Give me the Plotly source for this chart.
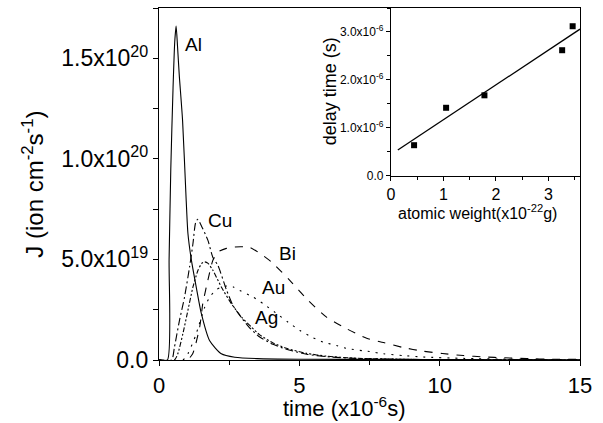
import numpy as np
import plotly.graph_objects as go

# ---- main chart data: time (us) and J (units of 1e19 ion cm^-2 s^-1) ----
al_t = [0, 0.30, 0.36, 0.42, 0.50, 0.56, 0.61, 0.66, 0.72, 0.84, 0.97, 1.03, 1.15, 1.33, 1.51, 1.80, 2.22, 2.70, 3.50, 5.0, 8.0, 11.0, 15.0]
al_j = [0, 0, 5.0, 9.5, 13.5, 15.8, 16.6, 15.6, 14.2, 11.9, 7.9, 6.3, 5.0, 3.6, 2.3, 0.97, 0.31, 0.14, 0.07, 0.04, 0.03, 0.02, 0.01]

cu_t = [0, 0.45, 0.55, 0.73, 0.91, 1.09, 1.21, 1.30, 1.38, 1.50, 1.74, 1.92, 2.10, 2.40, 2.64, 2.94, 3.23, 3.59, 4.06, 4.54, 5.26, 6.0, 7.0, 9.0, 12.0, 15.0]
cu_j = [0, 0, 0.64, 1.97, 3.13, 4.63, 5.79, 6.8, 7.0, 6.7, 5.96, 5.1, 4.7, 3.5, 2.7, 2.1, 1.6, 1.14, 0.78, 0.53, 0.29, 0.16, 0.08, 0.03, 0.01, 0]

ag_t = [0, 0.55, 0.67, 0.85, 1.03, 1.21, 1.39, 1.52, 1.63, 1.75, 1.92, 2.22, 2.58, 2.94, 3.29, 3.59, 4.06, 4.54, 5.26, 5.97, 7.0, 9.0, 12.0, 15.0]
ag_j = [0, 0, 0.31, 1.3, 2.47, 3.63, 4.46, 4.8, 4.88, 4.8, 4.46, 3.63, 2.80, 2.13, 1.64, 1.25, 0.85, 0.58, 0.33, 0.19, 0.09, 0.03, 0.01, 0]

au_t = [0, 0.85, 1.03, 1.3, 1.63, 1.80, 2.0, 2.2, 2.45, 2.65, 2.875, 3.35, 3.71, 4.15, 4.6, 5.02, 5.44, 5.85, 6.33, 6.74, 7.5, 8.0, 8.7, 9.4, 10.85, 12.5, 15.0]
au_j = [0, 0, 0.31, 1.2, 2.63, 3.1, 3.45, 3.62, 3.68, 3.63, 3.46, 3.13, 2.80, 2.35, 1.88, 1.47, 1.14, 0.89, 0.72, 0.56, 0.42, 0.31, 0.22, 0.15, 0.08, 0.04, 0.02]

bi_t = [0, 1.0, 1.2, 1.45, 1.56, 1.74, 1.92, 2.1, 2.4, 2.7, 3.0, 3.23, 3.6, 4.0, 4.66, 5.31, 5.97, 6.69, 7.4, 8.0, 8.7, 9.4, 10.1, 10.85, 11.6, 12.3, 13.1, 14.0, 15.0]
bi_j = [0, 0, 0.31, 1.64, 2.8, 3.96, 4.96, 5.37, 5.55, 5.62, 5.63, 5.6, 5.3, 4.88, 3.96, 2.97, 2.13, 1.55, 1.08, 0.87, 0.62, 0.44, 0.32, 0.22, 0.15, 0.11, 0.07, 0.04, 0.03]

J_UNIT = 1e19

# curve labels: (text, t, J in 1e19)
label_names = ["Al", "Cu", "Bi", "Au", "Ag"]
label_t = [0.84, 1.69, 4.19, 3.59, 3.35]
label_j = [15.7, 6.93, 5.28, 3.59, 2.12]

# main axis ticks
main_x_ticks = [0, 5, 10, 15]
main_y_tickvals = [0, 5e19, 1e20, 1.5e20]
main_y_ticktext = ["0.0", "5.0x10<sup>19</sup>", "1.0x10<sup>20</sup>", "1.5x10<sup>20</sup>"]

# ---- inset data: atomic weight (1e-22 g) vs delay time (s) ----
atomic_weight = [0.44, 1.05, 1.78, 3.26, 3.46]
delay_us = [0.64, 1.42, 1.68, 2.62, 3.12]
fit_x_range = [0.13, 3.6]
inset_y_tickvals = [0, 1e-6, 2e-6, 3e-6]
inset_y_ticktext = ["0.0", "1.0x10<sup>-6</sup>", "2.0x10<sup>-6</sup>", "3.0x10<sup>-6</sup>"]

FONT = "Liberation Sans, Arial, Helvetica, sans-serif"

fig = go.Figure()

styles = [
    (al_t, al_j, "solid"),
    (cu_t, cu_j, "8px,3px,2px,3px"),
    (ag_t, ag_j, "5px,2px,2px,2px,2px,2px"),
    (au_t, au_j, "2px,6px"),
    (bi_t, bi_j, "8px,8px"),
]
for t, j, dash in styles:
    fig.add_trace(go.Scatter(
        x=t, y=[v * J_UNIT for v in j], mode="lines",
        line=dict(color="black", width=1.1, dash=dash, shape="spline", smoothing=0.6),
        xaxis="x", yaxis="y", showlegend=False, hoverinfo="skip"))

# inset
fig.add_trace(go.Scatter(
    x=atomic_weight, y=[d * 1e-6 for d in delay_us], mode="markers",
    marker=dict(symbol="square", size=6, color="black"),
    xaxis="x2", yaxis="y2", showlegend=False))
slope, intercept = np.polyfit(atomic_weight, delay_us, 1)
fit_y = [(slope * x + intercept) * 1e-6 for x in fit_x_range]
fig.add_trace(go.Scatter(
    x=fit_x_range, y=fit_y, mode="lines",
    line=dict(color="black", width=1.3),
    xaxis="x2", yaxis="y2", showlegend=False))

annotations = []
for name, t, j in zip(label_names, label_t, label_j):
    annotations.append(dict(x=t, y=j * J_UNIT, xref="x", yref="y", text=name,
                            showarrow=False, xanchor="left", yanchor="middle",
                            font=dict(family=FONT, size=19, color="black")))

# axis titles
annotations.append(dict(x=-0.30, y=0.50, xref="paper", yref="paper", textangle=-90,
                        text="J (ion cm<sup>-2</sup>s<sup>-1</sup>)", showarrow=False,
                        xanchor="center", yanchor="middle",
                        font=dict(family=FONT, size=24, color="black")))
annotations.append(dict(x=0.44, y=-0.133, xref="paper", yref="paper",
                        text="time (x10<sup>-6</sup>s)", showarrow=False,
                        xanchor="center", yanchor="middle",
                        font=dict(family=FONT, size=22, color="black")))
annotations.append(dict(x=0.757, y=0.420, xref="paper", yref="paper",
                        text="atomic weight(x10<sup>-22</sup>g)", showarrow=False,
                        xanchor="center", yanchor="middle",
                        font=dict(family=FONT, size=16, color="black")))
annotations.append(dict(x=0.405, y=0.762, xref="paper", yref="paper", textangle=-90,
                        text="delay time (s)", showarrow=False,
                        xanchor="center", yanchor="middle",
                        font=dict(family=FONT, size=18, color="black")))

axis_common = dict(showgrid=False, zeroline=False, showline=True, linecolor="black",
                   linewidth=1.3, mirror=True, ticks="outside", tickcolor="black",
                   tickwidth=1, color="black")

fig.update_layout(
    width=603, height=423,
    margin=dict(l=159, r=23, t=8, b=63),
    paper_bgcolor="white", plot_bgcolor="white",
    font=dict(family=FONT, color="black"),
    xaxis=dict(range=[0, 15], tickvals=main_x_ticks, ticklen=5,
               minor=dict(dtick=2.5, ticklen=4, ticks="outside", tickcolor="black"),
               tickfont=dict(size=22), domain=[0, 1], anchor="y", **axis_common),
    yaxis=dict(range=[0, 1.75e20], tickvals=main_y_tickvals, ticktext=main_y_ticktext,
               ticklen=5,
               minor=dict(dtick=2.5e19, ticklen=5, ticks="outside", tickcolor="black"),
               tickfont=dict(size=23), domain=[0, 1], anchor="x", **axis_common),
    xaxis2=dict(range=[0, 3.6], tickvals=[0, 1, 2, 3], ticklen=4,
                minor=dict(dtick=0.5, ticklen=3, ticks="outside", tickcolor="black"),
                tickfont=dict(size=16), domain=[0.551, 1.0], anchor="y2", **axis_common),
    yaxis2=dict(range=[0, 3.5e-6], tickvals=inset_y_tickvals, ticktext=inset_y_ticktext,
                ticklen=4,
                minor=dict(dtick=0.5e-6, ticklen=3, ticks="outside", tickcolor="black"),
                tickfont=dict(size=12), domain=[0.523, 1.0], anchor="x2", **axis_common),
    annotations=annotations,
)

fig.write_html("out.html")
